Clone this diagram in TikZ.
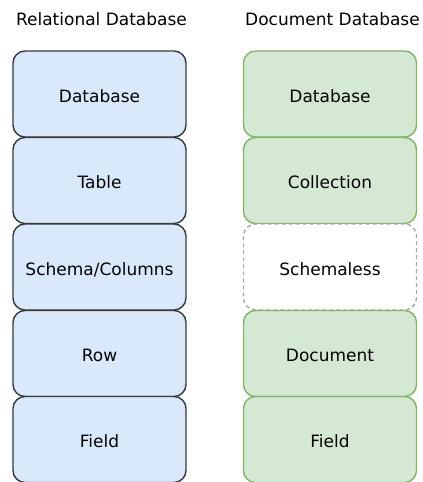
\documentclass[tikz,border=0pt]{standalone}
\usepackage{fontspec}
\setmainfont{DejaVu Sans}
\definecolor{relfill}{HTML}{DAE8FC}
\definecolor{reldraw}{HTML}{36393D}
\definecolor{docfill}{HTML}{D5E8D4}
\definecolor{docdraw}{HTML}{82B366}
\definecolor{nodraw}{HTML}{AAAAAA}
\begin{document}
\begin{tikzpicture}[x=1pt,y=-1pt,
  cell/.style={rounded corners=12pt, line width=1.4pt, minimum width=173pt,
    minimum height=86pt, inner sep=0pt, text height=16pt, text depth=0pt,
    font=\fontsize{17}{19}\selectfont},
  relcell/.style={cell, fill=relfill, draw=reldraw},
  doccell/.style={cell, fill=docfill, draw=docdraw},
  emptycell/.style={cell, fill=white, draw=nodraw, dashed, dash pattern=on 4pt off 3pt},
  heading/.style={font=\fontsize{17}{20}\selectfont, inner sep=0pt, anchor=base}]
\useasboundingbox (0,0) rectangle (423,482);
% column headings
\node[heading] (relhead) at (101.5,25) {Relational Database};
\node[heading] (dochead) at (332.5,25) {Document Database};
% relational column
\node[relcell] (r1) at (99.5,94) {Database};
\node[relcell] (r2) at (99.5,180.5) {Table};
\node[relcell] (r3) at (99.5,267) {Schema/Columns};
\node[relcell] (r4) at (99.5,353.5) {Row};
\node[relcell] (r5) at (99.5,439.5) {Field};
% document column
\node[doccell] (d1) at (330,94) {Database};
\node[doccell] (d2) at (330,180.5) {Collection};
\node[emptycell] (d3) at (330,267) {Schemaless};
\node[doccell] (d4) at (330,353.5) {Document};
\node[doccell] (d5) at (330,439.5) {Field};
\end{tikzpicture}
\end{document}
